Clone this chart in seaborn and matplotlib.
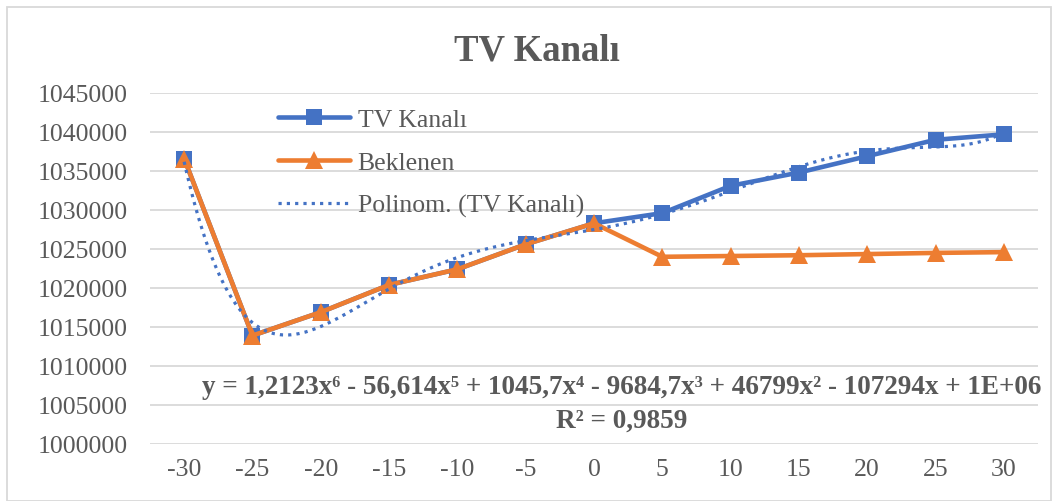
import numpy as np
import pandas as pd
import seaborn as sns
import matplotlib.pyplot as plt
from matplotlib.patches import Rectangle

# Data
x_vals = [-30, -25, -20, -15, -10, -5, 0, 5, 10, 15, 20, 25, 30]
tv_kanali = [1036600, 1013900, 1016900, 1020400, 1022400, 1025600, 1028300,
             1029600, 1033100, 1034800, 1036900, 1039000, 1039700]
beklenen = [1036600, 1013900, 1016900, 1020400, 1022400, 1025600, 1028300,
            1024000, 1024100, 1024200, 1024350, 1024500, 1024600]
equation = ("y = 1,2123x\u2076 - 56,614x\u2075 + 1045,7x\u2074 - 9684,7x\u00b3 "
            "+ 46799x\u00b2 - 107294x + 1E+06")
r2_text = "R\u00b2 = 0,9859"

blue = "#4472C4"
orange = "#ED7D31"
grey = "#595959"

sns.set_theme(style="white")
plt.rcParams['font.family'] = ['Liberation Serif', 'DejaVu Serif']

df = pd.DataFrame({"x": x_vals, "TV Kanalı": tv_kanali, "Beklenen": beklenen})

# 6th degree polynomial trend (Excel style, x = 1..n)
idx = np.arange(1, len(x_vals) + 1)
coef = np.polyfit(idx, tv_kanali, 6)
fine = np.linspace(1, len(x_vals), 300)
trend = pd.DataFrame({"x": x_vals[0] + (fine - 1) * 5, "y": np.polyval(coef, fine)})

fig = plt.figure(figsize=(10.58, 5.02), dpi=100)
ax = fig.add_axes([150 / 1058, 1 - 445 / 502, (1038 - 150) / 1058, (445 - 94) / 502])

sns.lineplot(data=df, x="x", y="TV Kanalı", ax=ax, color=blue, linewidth=3.3,
             marker="s", markersize=11, markeredgewidth=0, label="TV Kanalı")
sns.lineplot(data=df, x="x", y="Beklenen", ax=ax, color=orange, linewidth=3.3,
             marker="^", markersize=12.5, markeredgewidth=0, label="Beklenen")
sns.lineplot(data=trend, x="x", y="y", ax=ax, color=blue, linewidth=2.3,
             linestyle=(0, (1, 1.6)), label="Polinom. (TV Kanalı)")

ax.set_xlim(-32.5, 32.5)
ax.set_ylim(1000000, 1045000)
ax.set_xticks(x_vals)
ax.set_xticklabels([str(v) for v in x_vals])
ax.set_yticks(np.arange(1000000, 1045001, 5000))
ax.yaxis.set_major_formatter(plt.FuncFormatter(lambda v, p: f"{int(v)}"))
ax.tick_params(axis="both", labelsize=18.5, labelcolor=grey, length=0)
ax.tick_params(axis="y", pad=16)
ax.tick_params(axis="x", pad=10)
ax.set_xlabel("")
ax.set_ylabel("")
ax.grid(axis="y", color="#D9D9D9", linewidth=1.3)
ax.set_axisbelow(True)
for s in ax.spines.values():
    s.set_visible(False)

leg = ax.legend(loc="upper left", bbox_to_anchor=(265 / 1058, 1 - 96 / 502),
                bbox_transform=fig.transFigure, frameon=False, fontsize=18.5,
                handlelength=2.8, labelspacing=0.78, handletextpad=0.3,
                borderpad=0)
for t in leg.get_texts():
    t.set_color(grey)

fig.text(537 / 1058, 1 - 51 / 502, "TV Kanalı", ha="center", va="center",
         fontsize=26.5, fontweight="bold", color=grey)
fig.text(622 / 1058, 1 - 388 / 502, equation, ha="center", va="center",
         fontsize=19.5, fontweight="bold", color=grey)
fig.text(622 / 1058, 1 - 421 / 502, r2_text, ha="center", va="center",
         fontsize=19.5, fontweight="bold", color=grey)

fig.patches.append(Rectangle((7 / 1058, 0), 1 - 14 / 1058, 1 - 8 / 502,
                             transform=fig.transFigure, fill=False,
                             edgecolor="#D9D9D9", linewidth=1.3))

fig.savefig("out.png", dpi=100)
